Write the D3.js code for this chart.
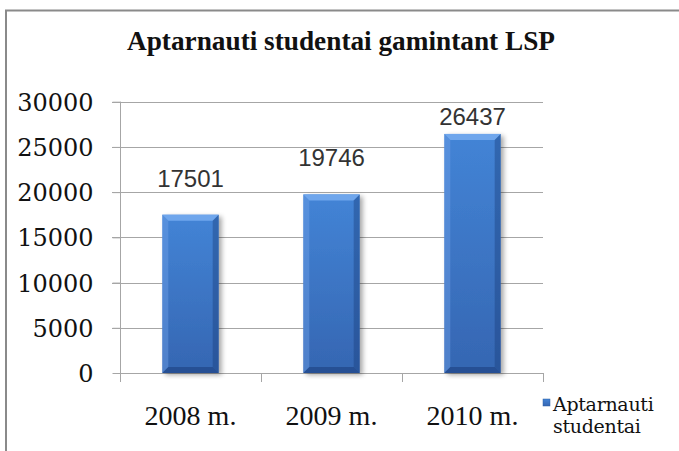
<!DOCTYPE html>
<html>
<head>
<meta charset="utf-8">
<script src="https://cdn.jsdelivr.net/npm/d3@7"></script>
<style>
  body { margin: 0; background: #fff; }
  svg { display: block; }
</style>
</head>
<body>
<svg id="chart" width="679" height="451"></svg>
<script>
const categories = ["2008 m.", "2009 m.", "2010 m."];
const values = [17501, 19746, 26437];
const yTicks = [0, 5000, 10000, 15000, 20000, 25000, 30000];
const seriesName = ["Aptarnauti", "studentai"];
const title = "Aptarnauti studentai gamintant LSP";

const svg = d3.select("#chart");
const W = 679, H = 451;
const plot = { left: 120, right: 543, top: 101.7, bottom: 373 };

// outer chart frame (runs off right and bottom edge like the source)
svg.append("rect")
  .attr("x", 6).attr("y", 10.5)
  .attr("width", W + 20).attr("height", H + 20)
  .attr("fill", "#fff")
  .attr("stroke", "#8a8a8a")
  .attr("stroke-width", 2);

const x = d3.scaleBand()
  .domain(categories)
  .range([plot.left, plot.right])
  .paddingInner(0.6)
  .paddingOuter(0.3);

const xBand = d3.scaleBand()
  .domain(categories)
  .range([plot.left, plot.right]);

const y = d3.scaleLinear()
  .domain([0, 30000])
  .range([plot.bottom, plot.top]);

const defs = svg.append("defs");
const grad = defs.append("linearGradient").attr("id", "barFill")
  .attr("x1", 0).attr("y1", 0).attr("x2", 0).attr("y2", 1);
grad.append("stop").attr("offset", "0%").attr("stop-color", "#4384d6");
grad.append("stop").attr("offset", "100%").attr("stop-color", "#3566b2");

const shadow = defs.append("filter").attr("id", "shadow")
  .attr("x", "-20%").attr("y", "-5%").attr("width", "150%").attr("height", "120%");
shadow.append("feGaussianBlur").attr("in", "SourceAlpha").attr("stdDeviation", 2.5);
shadow.append("feOffset").attr("dx", 3).attr("dy", 2).attr("result", "b");
shadow.append("feComponentTransfer").append("feFuncA").attr("type", "linear").attr("slope", 0.35);
const merge = shadow.append("feMerge");
merge.append("feMergeNode");
merge.append("feMergeNode").attr("in", "SourceGraphic");

// gridlines
svg.append("g")
  .selectAll("line")
  .data(yTicks.filter(d => d > 0))
  .join("line")
  .attr("x1", plot.left - 8).attr("x2", plot.right)
  .attr("y1", d => Math.round(y(d)) + 0.5).attr("y2", d => Math.round(y(d)) + 0.5)
  .attr("stroke", "#a6a6a6").attr("stroke-width", 1);

// y axis
const yAxis = d3.axisLeft(y).tickValues(yTicks).tickSize(8).tickPadding(19).tickFormat(d3.format("d"));
const gy = svg.append("g").attr("transform", `translate(${plot.left + 0.5},0)`).call(yAxis);
gy.select(".domain").attr("stroke", "#a6a6a6").attr("d", `M0,${plot.top}V${plot.bottom}`);
gy.selectAll(".tick line").attr("stroke", "#a6a6a6");
gy.selectAll(".tick text")
  .attr("font-family", "'DejaVu Serif', serif").attr("font-size", 24)
  .attr("fill", "#111").attr("dy", "0.36em");

// x axis
const xAxis = d3.axisBottom(xBand).tickSize(0).tickPadding(0).tickFormat("");
const gx = svg.append("g").attr("transform", `translate(0,${Math.round(plot.bottom) + 0.5})`).call(xAxis);
gx.select(".domain").attr("stroke", "#a6a6a6").attr("d", `M${plot.left},0H${plot.right}`);
gx.selectAll(".tick").remove();
svg.append("g")
  .selectAll("line")
  .data(categories.map(c => xBand(c)).concat([plot.right]))
  .join("line")
  .attr("x1", d => Math.round(d) + 0.5).attr("x2", d => Math.round(d) + 0.5)
  .attr("y1", plot.bottom).attr("y2", plot.bottom + 9)
  .attr("stroke", "#a6a6a6");

svg.append("g")
  .selectAll("text")
  .data(categories)
  .join("text")
  .attr("x", d => xBand(d) + xBand.bandwidth() / 2)
  .attr("y", 425)
  .attr("text-anchor", "middle")
  .attr("font-family", "'Liberation Serif', serif")
  .attr("font-size", 28)
  .attr("fill", "#111")
  .text(d => d);

// bars
const bev = 6;
const bars = svg.append("g").selectAll("g")
  .data(values.map((v, i) => ({ cat: categories[i], v })))
  .join("g");

bars.append("rect")
  .attr("x", d => x(d.cat)).attr("y", d => y(d.v))
  .attr("width", x.bandwidth()).attr("height", d => y(0) - y(d.v))
  .attr("fill", "url(#barFill)")
  .attr("filter", "url(#shadow)");

function facet(sel, pts, fill) {
  sel.append("path")
    .attr("d", d => "M" + pts(d).map(p => p.join(",")).join("L") + "Z")
    .attr("fill", fill);
}
const x0 = d => x(d.cat), x1 = d => x(d.cat) + x.bandwidth();
const y0 = d => y(d.v), y1 = () => y(0);
facet(bars, d => [[x0(d), y0(d)], [x1(d), y0(d)], [x1(d) - bev, y0(d) + bev], [x0(d) + bev, y0(d) + bev]], "#6fa6ec");
facet(bars, d => [[x0(d), y0(d)], [x0(d) + bev, y0(d) + bev], [x0(d) + bev, y1() - bev], [x0(d), y1()]], "rgba(110,160,230,0.45)");
facet(bars, d => [[x1(d), y0(d)], [x1(d), y1()], [x1(d) - bev, y1() - bev], [x1(d) - bev, y0(d) + bev]], "rgba(25,60,120,0.4)");
facet(bars, d => [[x0(d), y1()], [x0(d) + bev, y1() - bev], [x1(d) - bev, y1() - bev], [x1(d), y1()]], "rgba(20,50,110,0.45)");

// data labels
svg.append("g")
  .selectAll("text")
  .data(values.map((v, i) => ({ cat: categories[i], v })))
  .join("text")
  .attr("x", d => x(d.cat) + x.bandwidth() / 2)
  .attr("y", d => Math.max(y(d.v) - 28, y(30000) + 23))
  .attr("text-anchor", "middle")
  .attr("font-family", "'Liberation Sans', Arial, sans-serif")
  .attr("font-size", 24)
  .attr("fill", "#333")
  .text(d => d.v);

// title
svg.append("text")
  .attr("x", 341).attr("y", 50)
  .attr("text-anchor", "middle")
  .attr("font-family", "'Liberation Serif', serif")
  .attr("font-weight", "bold")
  .attr("font-size", 27)
  .attr("textLength", 428)
  .attr("lengthAdjust", "spacingAndGlyphs")
  .attr("fill", "#111")
  .text(title);

// legend
const lg = svg.append("g").attr("transform", "translate(543,399)");
lg.append("rect").attr("width", 7).attr("height", 7)
  .attr("fill", "url(#barFill)").attr("stroke", "#2f5fa5").attr("stroke-width", 0.5);
lg.selectAll("text")
  .data(seriesName)
  .join("text")
  .attr("x", 10).attr("y", (d, i) => 12 + i * 22)
  .attr("font-family", "'DejaVu Serif', serif")
  .attr("font-size", 19)
  .attr("letter-spacing", -0.3)
  .attr("fill", "#111")
  .text(d => d);
</script>
</body>
</html>
